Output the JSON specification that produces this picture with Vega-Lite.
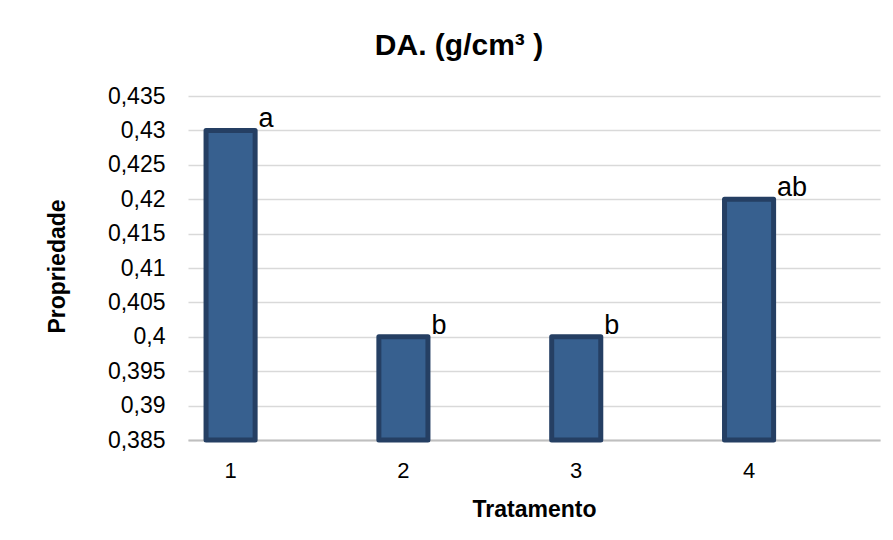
{
  "$schema": "https://vega.github.io/schema/vega-lite/v6.json",
  "width": 692,
  "height": 344,
  "autosize": "none",
  "padding": {"left": 188, "top": 96, "right": 13, "bottom": 100},
  "background": "white",
  "title": {
    "text": "DA. (g/cm³ )",
    "font": "Liberation Sans",
    "fontSize": 30,
    "fontWeight": "bold",
    "color": "black",
    "anchor": "middle",
    "dx": -75,
    "offset": 0,
    "baseline": "alphabetic"
  },
  "data": {
    "values": [
      {"Tratamento": "1", "Propriedade": 0.43, "Letra": "a"},
      {"Tratamento": "2", "Propriedade": 0.40, "Letra": "b"},
      {"Tratamento": "3", "Propriedade": 0.40, "Letra": "b"},
      {"Tratamento": "4", "Propriedade": 0.42, "Letra": "ab"}
    ]
  },
  "config": {"view": {"stroke": null}, "font": "Liberation Sans"},
  "encoding": {
    "x": {
      "field": "Tratamento",
      "type": "ordinal",
      "scale": {"paddingInner": 0.716, "paddingOuter": 0.36, "align": 0.145},
      "axis": {
        "title": "Tratamento",
        "labelAngle": 0,
        "ticks": false,
        "domain": true,
        "domainColor": "#BFBFBF",
        "domainWidth": 2,
        "labelFontSize": 22,
        "labelColor": "black",
        "labelPadding": 20,
        "titleFontSize": 23,
        "titleFontWeight": "bold",
        "titleColor": "black",
        "titleY": 76,
        "titleBaseline": "alphabetic",
        "grid": false
      }
    },
    "y": {
      "field": "Propriedade",
      "type": "quantitative",
      "scale": {"domain": [0.385, 0.435], "zero": false, "nice": false},
      "axis": {
        "title": "Propriedade",
        "values": [0.385, 0.39, 0.395, 0.4, 0.405, 0.41, 0.415, 0.42, 0.425, 0.43, 0.435],
        "labelExpr": "replace(format(datum.value, '.3~f'), '.', ',')",
        "domain": false,
        "ticks": false,
        "labelPadding": 23,
        "labelFontSize": 23,
        "labelColor": "black",
        "grid": true,
        "gridColor": "#D9D9D9",
        "gridWidth": 1.5,
        "titleFontSize": 23,
        "titleFontWeight": "bold",
        "titleColor": "black",
        "titleX": -124,
        "titleY": 170,
        "titleAngle": -90,
        "titleBaseline": "alphabetic",
        "titleAlign": "center"
      }
    }
  },
  "layer": [
    {
      "mark": {"type": "bar", "fill": "#37608F", "stroke": "#253F63", "strokeWidth": 5, "strokeJoin": "round"},
      "encoding": {"y2": {"datum": 0.385}}
    },
    {
      "mark": {"type": "text", "align": "left", "baseline": "alphabetic", "dx": 28, "dy": -3, "fontSize": 27, "font": "Liberation Sans", "color": "black"},
      "encoding": {"text": {"field": "Letra"}}
    }
  ]
}
